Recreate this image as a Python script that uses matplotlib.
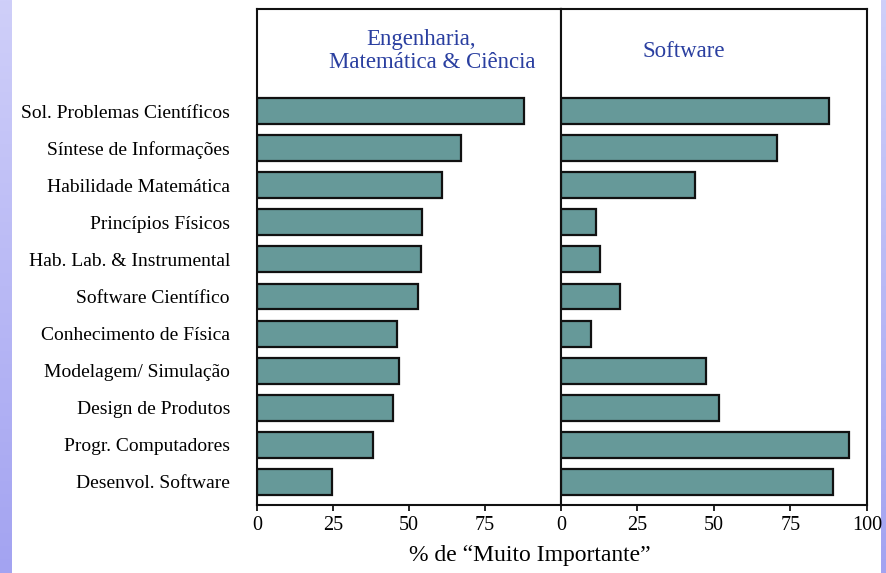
import matplotlib
matplotlib.use("Agg")
import matplotlib.pyplot as plt
from matplotlib.colors import LinearSegmentedColormap
import numpy as np

# data
categories = [
    "Sol. Problemas Científicos",
    "Síntese de Informações",
    "Habilidade Matemática",
    "Princípios Físicos",
    "Hab. Lab. & Instrumental",
    "Software Científico",
    "Conhecimento de Física",
    "Modelagem/ Simulação",
    "Design de Produtos",
    "Progr. Computadores",
    "Desenvol. Software",
]
eng_values = [87.7, 67.2, 60.8, 54.4, 53.8, 53.1, 46.0, 46.7, 44.6, 38.0, 24.6]
soft_values = [87.7, 70.7, 43.9, 11.4, 12.8, 19.2, 9.9, 47.4, 51.6, 94.0, 89.0]
panel_titles = ["Engenharia,\n    Matemática & Ciência", "Software"]
left_ticks = [0, 25, 50, 75]
right_ticks = [0, 25, 50, 75, 100]

plt.rcParams['font.family'] = ['Liberation Serif', 'DejaVu Serif']

bar_color = '#669999'
title_color = '#2a3fa0'

fig = plt.figure(figsize=(8.87, 5.73), dpi=100)
fig.patch.set_facecolor('white')

# lavender side strips
grad = np.linspace(0, 1, 256).reshape(-1, 1)
cmap = LinearSegmentedColormap.from_list('lav', ['#cfcff9', '#a3a3f1'])
for x0, w in [(0.0, 12 / 887), (881 / 887, 6 / 887)]:
    sax = fig.add_axes([x0, 0, w, 1])
    sax.imshow(grad, aspect='auto', cmap=cmap, origin='upper')
    sax.axis('off')

bottom = (573 - 505) / 573
height = (505 - 9) / 573
ax1 = fig.add_axes([257 / 887, bottom, (561 - 257) / 887, height])
ax2 = fig.add_axes([561 / 887, bottom, (867 - 561) / 887, height])

y = np.arange(len(categories))[::-1]

for ax, vals, ticks in [(ax1, eng_values, left_ticks), (ax2, soft_values, right_ticks)]:
    ax.barh(y, vals, height=0.7, color=bar_color, edgecolor='#111111', linewidth=1.6)
    ax.set_xlim(0, 100)
    ax.set_ylim(-0.62, 12.75)
    ax.set_xticks(ticks)
    ax.set_xticklabels([str(t) for t in ticks], fontsize=14.5)
    ax.tick_params(axis='x', direction='out', length=4, width=1.2, pad=4)
    for s in ax.spines.values():
        s.set_linewidth(1.5)
        s.set_color('#111111')

ax1.set_yticks(y)
ax1.set_yticklabels(categories, fontsize=14)
ax1.tick_params(axis='y', length=0, pad=19.5)
ax2.set_yticks([])

ax1.text(0.54, 0.915, panel_titles[0], transform=ax1.transAxes, ha='center', va='center',
         fontsize=16.5, color=title_color, linespacing=1.15)
ax2.text(0.40, 0.915, panel_titles[1], transform=ax2.transAxes, ha='center', va='center',
         fontsize=16.5, color=title_color)

fig.text(530 / 887, 1 - 555 / 573, '% de \u201cMuito Importante\u201d', ha='center', va='center',
         fontsize=17)

fig.savefig('out.png', dpi=100, facecolor='white')
